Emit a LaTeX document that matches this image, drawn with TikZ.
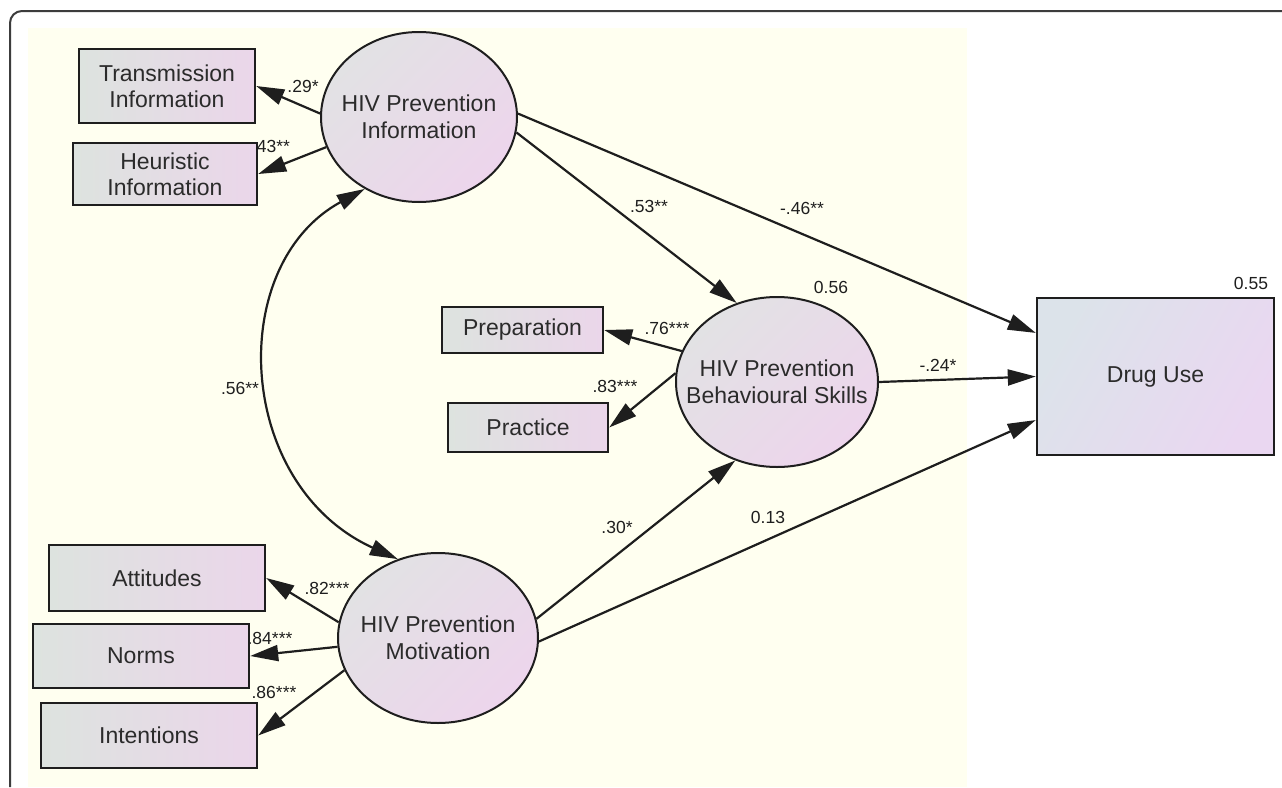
\documentclass[tikz,border=0pt]{standalone}
\usepackage{fontspec}
\setmainfont{Liberation Sans}
\usetikzlibrary{arrows.meta,shapes.geometric,calc}
\definecolor{bgyellow}{HTML}{FFFFF0}
\definecolor{boxL}{HTML}{DDE3DF}
\definecolor{boxR}{HTML}{EBD6EA}
\definecolor{ellA}{HTML}{E2E2E4}
\definecolor{ellB}{HTML}{EDD5EC}
\definecolor{drugL}{HTML}{DCE3EA}
\definecolor{drugR}{HTML}{EAD7F1}
\definecolor{ink}{HTML}{1E1E1E}
\definecolor{txt}{HTML}{2B2B2B}
\definecolor{framec}{HTML}{3C3C3C}
\begin{document}
\begin{tikzpicture}[x=1pt,y=-1pt,
  obs/.style={draw=ink, line width=2.4pt, rectangle, inner sep=0pt,
    left color=boxL, right color=boxR, font=\fontsize{23}{26}\selectfont,
    text=txt, align=center},
  lat/.style={draw=ink, line width=2pt, ellipse, inner sep=0pt,
    minimum width=#1, minimum height=170pt,
    top color=ellA, bottom color=ellB, shading angle=45},
  lattext/.style={font=\fontsize{23}{27}\selectfont, text=txt, align=center, inner sep=0pt},
  lbl/.style={font=\fontsize{17.5}{20}\selectfont, text=ink, inner sep=0pt},
  arr/.style={draw=ink, line width=2.2pt, -{Triangle[length=28pt,width=16pt]}},
  arrb/.style={draw=ink, line width=2.2pt, {Triangle[length=28pt,width=16pt]}-{Triangle[length=28pt,width=16pt]}}
]
\useasboundingbox (0,0) rectangle (1282,787);
\fill[white] (0,0) rectangle (1282,787);
\fill[bgyellow] (28,28) rectangle (967,787);
\draw[framec, line width=2pt, rounded corners=12pt] (10,787) -- (10,11) -- (1282,11);

% labels (drawn first so boxes may cover them)
\node[lbl] (l29) at (303,86) {.29*};
\node[lbl] (l43) at (271,146) {.43**};
\node[lbl] (l53) at (649,206) {.53**};
\node[lbl] (l46) at (802,208) {-.46**};
\node[lbl] (l056) at (831,287) {0.56};
\node[lbl] (l76) at (667,328) {.76***};
\node[lbl] (l83) at (615,386) {.83***};
\node[lbl] (l24) at (938,365) {-.24*};
\node[lbl] (l055) at (1251,283) {0.55};
\node[lbl] (l56) at (240,388) {.56**};
\node[lbl] (l30) at (617,527) {.30*};
\node[lbl] (l13) at (768,517) {0.13};
\node[lbl] (l82) at (327,588) {.82***};
\node[lbl] (l84) at (270,638) {.84***};
\node[lbl] (l86) at (274,692) {.86***};

% observed variables
\node[obs, minimum width=176pt, minimum height=74pt] (trans) at (167,86) {Transmission\\Information};
\node[obs, minimum width=184pt, minimum height=62pt] (heur) at (165,174) {Heuristic\\Information};
\node[obs, minimum width=161pt, minimum height=46pt] (prep) at (522.5,330) {Preparation};
\node[obs, minimum width=160pt, minimum height=49pt] (prac) at (528,427.5) {Practice};
\node[obs, minimum width=216pt, minimum height=66pt] (att) at (157,578) {Attitudes};
\node[obs, minimum width=216pt, minimum height=64pt] (norms) at (141,656) {Norms};
\node[obs, minimum width=216pt, minimum height=65pt] (intent) at (149,735.5) {Intentions};
\node[obs, minimum width=237pt, minimum height=157pt, left color=drugL, right color=drugR, shading angle=60] (drug) at (1155.5,376.5) {Drug Use};

% latent variables
\node[lat=196pt] (info) at (419,117) {};
\node[lat=202pt] (skills) at (777,382) {};
\node[lat=200pt] (motiv) at (438,638) {};
\node[lattext] (infot) at (info.center) {HIV Prevention\\Information};
\node[lattext] (skillst) at (skills.center) {HIV Prevention\\Behavioural Skills};
\node[lattext] (motivt) at (motiv.center) {HIV Prevention\\Motivation};

% connectors
\draw[arr] (info.178) -- (trans.east);
\draw[arr] (info.198) -- (heur.east);
\draw[arr] (info.351) -- (skills.117);
\draw[arr] (info.2) -- (drug.160.7);
\draw[arr] (skills.162.8) -- (prep.east);
\draw[arr] (skills.175) -- (prac.east);
\draw[arr] (skills.east) -- (drug.west);
\draw[arr] (motiv.11) -- (skills.242);
\draw[arr] (motiv.358) -- (drug.200);
\draw[arr] (motiv.171.5) -- (att.east);
\draw[arr] (motiv.185.6) -- (norms.east);
\draw[arr] (motiv.199.5) -- (intent.east);
\draw[arrb] (info.233) .. controls (225,265) and (235,485) .. (motiv.117);
\end{tikzpicture}
\end{document}
